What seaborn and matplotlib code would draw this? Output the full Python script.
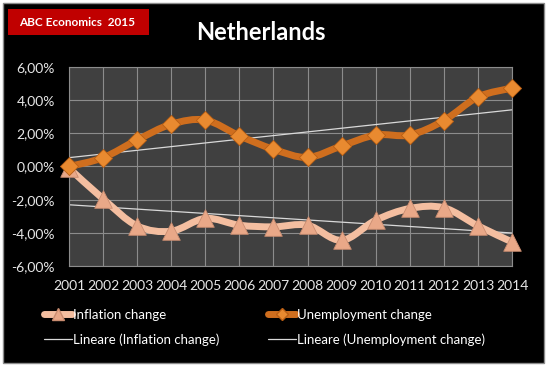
import numpy as np
import pandas as pd
import seaborn as sns
import matplotlib.pyplot as plt
from matplotlib.path import Path
from matplotlib.patches import PathPatch, Rectangle
from matplotlib.lines import Line2D
from matplotlib.ticker import FuncFormatter

# values (percent)
years = [2001, 2002, 2003, 2004, 2005, 2006, 2007, 2008, 2009, 2010, 2011, 2012, 2013, 2014]
inflation = [-0.1, -1.95, -3.58, -3.9, -3.13, -3.54, -3.64, -3.54, -4.45, -3.24, -2.53, -2.49, -3.58, -4.55]
unemployment = [0.0, 0.53, 1.6, 2.55, 2.8, 1.85, 1.04, 0.55, 1.24, 1.9, 1.9, 2.77, 4.19, 4.73]

df = pd.DataFrame({'year': years, 'Inflation change': inflation,
                   'Unemployment change': unemployment})

sns.set_theme(style='dark')
plt.rcParams['font.family'] = ['Lato', 'DejaVu Sans']

infl_line = '#F4BEA0'
infl_mark = '#E9A888'
unemp_line = '#CF6E1E'
unemp_mark = '#E98A30'
trend_col = '#D9D9D9'


def smooth_path(x, y):
    # Excel-style smoothed line: cubic bezier through every point
    x = np.asarray(x, float)
    y = np.asarray(y, float)
    px = np.concatenate([[x[0]], x, [x[-1]]])
    py = np.concatenate([[y[0]], y, [y[-1]]])
    verts = [(x[0], y[0])]
    codes = [Path.MOVETO]
    for i in range(1, len(x)):
        c1 = (px[i] + (px[i + 1] - px[i - 1]) / 6, py[i] + (py[i + 1] - py[i - 1]) / 6)
        c2 = (px[i + 1] - (px[i + 2] - px[i]) / 6, py[i + 1] - (py[i + 2] - py[i]) / 6)
        verts += [c1, c2, (px[i + 1], py[i + 1])]
        codes += [Path.CURVE4] * 3
    return Path(verts, codes)


fig = plt.figure(figsize=(5.47, 3.67), dpi=100, facecolor='white')
fig.patches.append(Rectangle((3 / 547, 4 / 367), 541 / 547, 360 / 367, transform=fig.transFigure,
                             facecolor='black', edgecolor='#8C8C8C', lw=1, zorder=-10))
fig.patches.append(Rectangle((8 / 547, 1 - 35 / 367), 141 / 547, 26 / 367, transform=fig.transFigure,
                             facecolor='#C00000', edgecolor='none', zorder=-9))
fig.text(19 / 547, 1 - 22 / 367, 'ABC Economics  2015', color='white', fontsize=8.5,
         fontweight='bold', va='center', ha='left')
fig.text(261 / 547, 1 - 33 / 367, 'Netherlands', color='white', fontsize=17,
         fontweight='bold', va='center', ha='center')

ax = fig.add_axes([69 / 547, 101 / 367, 443 / 547, 199 / 367])
ax.set_facecolor('#404040')

# linear trend lines
sns.regplot(data=df, x='year', y='Inflation change', scatter=False, ci=None, truncate=True,
            line_kws={'color': trend_col, 'lw': 0.9}, ax=ax)
sns.regplot(data=df, x='year', y='Unemployment change', scatter=False, ci=None, truncate=True,
            line_kws={'color': trend_col, 'lw': 0.9}, ax=ax)

ax.add_patch(PathPatch(smooth_path(years, inflation), fill=False, ec=infl_line, lw=5,
                       capstyle='round', joinstyle='round', zorder=3))
ax.add_patch(PathPatch(smooth_path(years, unemployment), fill=False, ec=unemp_line, lw=5,
                       capstyle='round', joinstyle='round', zorder=3))

sns.scatterplot(data=df, x='year', y='Inflation change', marker='^', s=160, color=infl_mark,
                edgecolor='#C98C70', linewidth=0.6, zorder=4, ax=ax, clip_on=False)
sns.scatterplot(data=df, x='year', y='Unemployment change', marker='D', s=85, color=unemp_mark,
                edgecolor='#B85E14', linewidth=0.6, zorder=4, ax=ax, clip_on=False)

ax.set_xlim(2001, 2014)
ax.set_ylim(-6, 6)
ax.set_xticks(years)
ax.set_yticks(np.arange(-6, 7, 2))
ax.yaxis.set_major_formatter(FuncFormatter(lambda v, p: f'{v:.2f}%'.replace('.', ',')))
ax.grid(True, color='#8C8C8C', lw=0.8)
ax.set_axisbelow(True)
ax.tick_params(colors='#E6E6E6', labelsize=10, length=0)
ax.tick_params(axis='y', pad=10)
ax.tick_params(axis='x', pad=10)
ax.set_xlabel('')
ax.set_ylabel('')
for s in ax.spines.values():
    s.set_color('#8C8C8C')
    s.set_linewidth(0.8)

handles = [
    Line2D([], [], color=infl_line, lw=5, marker='^', markersize=9, markerfacecolor=infl_mark,
           markeredgecolor='#C98C70', solid_capstyle='round'),
    Line2D([], [], color=trend_col, lw=0.9),
    Line2D([], [], color=unemp_line, lw=5, marker='D', markersize=6, markerfacecolor=unemp_mark,
           markeredgecolor='#B85E14', solid_capstyle='round'),
    Line2D([], [], color=trend_col, lw=0.9),
]
labels = ['Inflation change', 'Lineare (Inflation change)',
          'Unemployment change', 'Lineare (Unemployment change)']
fig.legend(handles, labels, loc='upper left', bbox_to_anchor=(32 / 547, 1 - 297 / 367), ncol=2,
           frameon=False, fontsize=9.5, labelcolor='white', handlelength=2.1, handletextpad=0.1,
           columnspacing=3.7, labelspacing=0.95)

fig.savefig('out.png', dpi=100, facecolor='white')
